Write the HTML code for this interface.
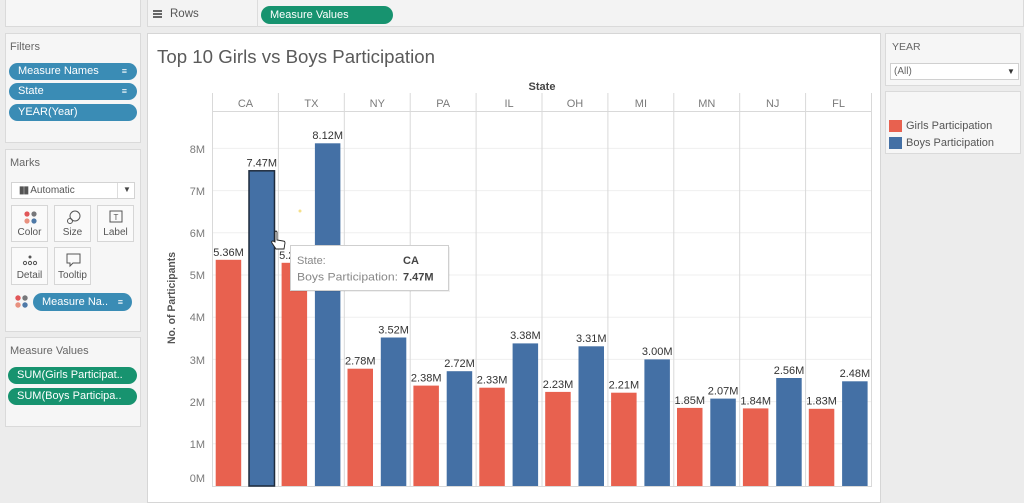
<!DOCTYPE html>
<html><head><meta charset="utf-8">
<style>
*{box-sizing:border-box;margin:0;padding:0}
body{width:1024px;height:495px;overflow:hidden;background:#ececec;font-family:"Liberation Sans",sans-serif;position:relative}
.p{position:absolute;background:#f6f6f6;border:1px solid #dadada}
.t{position:absolute;font-size:11px;color:#666;white-space:nowrap}
.pill{position:absolute;height:17px;border-radius:9px;color:#fff;font-size:11px;line-height:17px;padding-left:9px;white-space:nowrap;overflow:hidden}
.blue{background:#3a8cb5}
.green{background:#17936f}
.btn{position:absolute;width:37px;height:37px;border:1px solid #d6d6d6;background:#fafafa;font-size:10px;color:#555;text-align:center}
.btn span{position:absolute;left:0;right:0;bottom:3px}
</style></head><body>
<!-- top strip -->
<div class="p" style="left:5px;top:-1px;width:136px;height:28px"></div>
<div class="p" style="left:147px;top:-1px;width:877px;height:28px;background:#f3f3f3"></div>
<div style="position:absolute;left:257px;top:0;width:1px;height:27px;background:#dcdcdc"></div>
<div style="position:absolute;left:153px;top:10px;width:9px;height:8px;border-top:2px solid #666;border-bottom:2px solid #666"></div>
<div style="position:absolute;left:153px;top:13px;width:9px;height:2px;background:#666"></div>
<div class="t" style="left:170px;top:8px;font-size:11.5px;color:#555">Rows</div>
<div class="pill green" style="left:261px;top:6px;width:132px;height:18px;line-height:18px;font-size:11px">Measure Values</div>

<!-- Filters -->
<div class="p" style="left:5px;top:33px;width:136px;height:110px"></div>
<div class="t" style="left:10px;top:41px">Filters</div>
<div class="pill blue" style="left:9px;top:63px;width:128px">Measure Names<span style="position:absolute;right:10px;top:0;font-size:9px">&#8801;</span></div>
<div class="pill blue" style="left:9px;top:83px;width:128px">State<span style="position:absolute;right:10px;top:0;font-size:9px">&#8801;</span></div>
<div class="pill blue" style="left:9px;top:104px;width:128px">YEAR(Year)</div>

<!-- Marks -->
<div class="p" style="left:5px;top:149px;width:136px;height:183px"></div>
<div class="t" style="left:10px;top:157px">Marks</div>
<div style="position:absolute;left:11px;top:182px;width:124px;height:17px;border:1px solid #d3d3d3;background:#fff"></div>
<div class="t" style="left:19px;top:185px;font-size:10px;color:#555"><b style="letter-spacing:-1px">&#9646;&#9646;</b> Automatic</div>
<div class="t" style="left:123px;top:185px;font-size:8px;color:#444">&#9660;</div>
<div style="position:absolute;left:117px;top:183px;width:1px;height:15px;background:#ddd"></div>
<div class="btn" style="left:11px;top:205px"><svg width="37" height="22"><circle cx="15" cy="8" r="2.6" fill="#e15759"/><circle cx="22" cy="8" r="2.6" fill="#76777a"/><circle cx="15" cy="15" r="2.6" fill="#e8917f"/><circle cx="22" cy="15" r="2.6" fill="#4e79a7"/></svg><span>Color</span></div>
<div class="btn" style="left:54px;top:205px"><svg width="37" height="22"><circle cx="20" cy="10" r="5" fill="none" stroke="#555"/><circle cx="15" cy="15" r="2.5" fill="none" stroke="#555"/></svg><span>Size</span></div>
<div class="btn" style="left:97px;top:205px"><svg width="37" height="22"><rect x="12" y="5" width="12" height="11" fill="none" stroke="#555"/><text x="18" y="14" font-size="8" text-anchor="middle" fill="#555" font-family="Liberation Sans">T</text></svg><span>Label</span></div>
<div class="btn" style="left:11px;top:247px;height:38px"><svg width="37" height="22"><circle cx="18" cy="9" r="1.5" fill="#555"/><circle cx="13" cy="15" r="1.6" fill="none" stroke="#555"/><circle cx="18" cy="15" r="1.6" fill="none" stroke="#555"/><circle cx="23" cy="15" r="1.6" fill="none" stroke="#555"/></svg><span>Detail</span></div>
<div class="btn" style="left:54px;top:247px;height:38px"><svg width="37" height="22"><path d="M12 6h13v9h-7l-3 3v-3h-3z" fill="none" stroke="#555"/></svg><span>Tooltip</span></div>
<svg style="position:absolute;left:14px;top:294px" width="18" height="16"><circle cx="4" cy="4" r="2.7" fill="#e15759"/><circle cx="11" cy="4" r="2.7" fill="#76777a"/><circle cx="4" cy="11" r="2.7" fill="#e8917f"/><circle cx="11" cy="11" r="2.7" fill="#4e79a7"/></svg>
<div class="pill blue" style="left:33px;top:293px;width:99px;height:18px;line-height:18px">Measure Na..<span style="position:absolute;right:9px;top:0;font-size:9px">&#8801;</span></div>

<!-- Measure values -->
<div class="p" style="left:5px;top:337px;width:136px;height:90px"></div>
<div class="t" style="left:10px;top:345px">Measure Values</div>
<div class="pill green" style="left:8px;top:367px;width:129px">SUM(Girls Participat..</div>
<div class="pill green" style="left:8px;top:388px;width:129px">SUM(Boys Participa..</div>

<!-- right panels -->
<div class="p" style="left:885px;top:33px;width:136px;height:53px"></div>
<div class="t" style="left:892px;top:41px;font-size:10.5px">YEAR</div>
<div style="position:absolute;left:890px;top:63px;width:129px;height:17px;border:1px solid #d0d0d0;background:#fff"></div>
<div class="t" style="left:894px;top:66px;font-size:10px;color:#666">(All)</div>
<div class="t" style="left:1007px;top:67px;font-size:8px;color:#333">&#9660;</div>
<div class="p" style="left:885px;top:91px;width:136px;height:63px"></div>
<div style="position:absolute;left:889px;top:120px;width:13px;height:12px;background:#e8614f"></div>
<div style="position:absolute;left:889px;top:137px;width:13px;height:12px;background:#4470a5"></div>
<div class="t" style="left:906px;top:120px;font-size:11px;color:#555">Girls Participation</div>
<div class="t" style="left:906px;top:137px;font-size:11px;color:#555">Boys Participation</div>

<!-- chart panel -->
<div style="position:absolute;left:147px;top:33px;width:734px;height:470px;background:#fff;border:1px solid #d6d6d6"></div>

<svg style="position:absolute;left:0;top:0" width="1024" height="495" font-family="Liberation Sans, sans-serif">
<text x="157" y="63" font-size="18" fill="#5a5a5a" textLength="278" lengthAdjust="spacingAndGlyphs">Top 10 Girls vs Boys Participation</text>
<text x="542" y="90" font-size="11" font-weight="bold" fill="#444" text-anchor="middle">State</text>
<g stroke="#efefef" stroke-width="1">
<line x1="212" x2="871" y1="443.8" y2="443.8"/><line x1="212" x2="871" y1="401.6" y2="401.6"/>
<line x1="212" x2="871" y1="359.4" y2="359.4"/><line x1="212" x2="871" y1="317.2" y2="317.2"/>
<line x1="212" x2="871" y1="275" y2="275"/><line x1="212" x2="871" y1="232.8" y2="232.8"/>
<line x1="212" x2="871" y1="190.6" y2="190.6"/><line x1="212" x2="871" y1="148.4" y2="148.4"/>
</g>
<g stroke="#d9d9d9" stroke-width="1">
<line x1="212" x2="871" y1="111.5" y2="111.5"/>
<line x1="212.5" x2="212.5" y1="93" y2="487"/>
<line x1="278.4" x2="278.4" y1="93" y2="487"/>
<line x1="344.3" x2="344.3" y1="93" y2="487"/>
<line x1="410.2" x2="410.2" y1="93" y2="487"/>
<line x1="476.1" x2="476.1" y1="93" y2="487"/>
<line x1="542" x2="542" y1="93" y2="487"/>
<line x1="607.9" x2="607.9" y1="93" y2="487"/>
<line x1="673.8" x2="673.8" y1="93" y2="487"/>
<line x1="739.7" x2="739.7" y1="93" y2="487"/>
<line x1="805.6" x2="805.6" y1="93" y2="487"/>
<line x1="871.5" x2="871.5" y1="93" y2="487"/>
<line x1="212" x2="871" y1="486.5" y2="486.5"/>
</g>
<g font-size="11" fill="#7a7a7a" text-anchor="middle">
<text x="245.5" y="107">CA</text><text x="311.4" y="107">TX</text><text x="377.3" y="107">NY</text>
<text x="443.2" y="107">PA</text><text x="509.1" y="107">IL</text><text x="575" y="107">OH</text>
<text x="640.9" y="107">MI</text><text x="706.8" y="107">MN</text><text x="772.7" y="107">NJ</text>
<text x="838.6" y="107">FL</text>
</g>
<g font-size="11" fill="#7a7a7a" text-anchor="end">
<text x="205" y="153">8M</text><text x="205" y="195">7M</text><text x="205" y="237">6M</text>
<text x="205" y="279">5M</text><text x="205" y="321">4M</text><text x="205" y="364">3M</text>
<text x="205" y="406">2M</text><text x="205" y="448">1M</text><text x="205" y="482">0M</text>
</g>
<text transform="translate(175,298) rotate(-90)" font-size="11" font-weight="bold" fill="#555" text-anchor="middle" textLength="92" lengthAdjust="spacingAndGlyphs">No. of Participants</text>

<g id="bars">
<!-- CA -->
<rect x="215.7" y="259.8" width="25.5" height="226.2" fill="#e8614f"/>
<rect x="249" y="170.8" width="25.5" height="315.2" fill="#4470a5" stroke="#1e2b3c" stroke-width="1.5"/>
<!-- TX -->
<rect x="281.6" y="262.8" width="25.5" height="223.2" fill="#e8614f"/>
<rect x="314.9" y="143.3" width="25.5" height="342.7" fill="#4470a5"/>
<!-- NY -->
<rect x="347.5" y="368.7" width="25.5" height="117.3" fill="#e8614f"/>
<rect x="380.8" y="337.5" width="25.5" height="148.5" fill="#4470a5"/>
<!-- PA -->
<rect x="413.4" y="385.6" width="25.5" height="100.4" fill="#e8614f"/>
<rect x="446.7" y="371.2" width="25.5" height="114.8" fill="#4470a5"/>
<!-- IL -->
<rect x="479.3" y="387.7" width="25.5" height="98.3" fill="#e8614f"/>
<rect x="512.6" y="343.4" width="25.5" height="142.6" fill="#4470a5"/>
<!-- OH -->
<rect x="545.2" y="391.9" width="25.5" height="94.1" fill="#e8614f"/>
<rect x="578.5" y="346.3" width="25.5" height="139.7" fill="#4470a5"/>
<!-- MI -->
<rect x="611.1" y="392.7" width="25.5" height="93.3" fill="#e8614f"/>
<rect x="644.4" y="359.4" width="25.5" height="126.6" fill="#4470a5"/>
<!-- MN -->
<rect x="677" y="407.9" width="25.5" height="78.1" fill="#e8614f"/>
<rect x="710.3" y="398.6" width="25.5" height="87.4" fill="#4470a5"/>
<!-- NJ -->
<rect x="742.9" y="408.4" width="25.5" height="77.6" fill="#e8614f"/>
<rect x="776.2" y="378" width="25.5" height="108" fill="#4470a5"/>
<!-- FL -->
<rect x="808.8" y="408.8" width="25.5" height="77.2" fill="#e8614f"/>
<rect x="842.1" y="381.3" width="25.5" height="104.7" fill="#4470a5"/>
</g>
<g font-size="11" fill="#333" text-anchor="middle">
<text x="228.5" y="256">5.36M</text><text x="261.8" y="166.5">7.47M</text>
<text x="294.4" y="259">5.29M</text><text x="327.7" y="139">8.12M</text>
<text x="360.3" y="364.5">2.78M</text><text x="393.6" y="333.5">3.52M</text>
<text x="426.2" y="381.5">2.38M</text><text x="459.5" y="367">2.72M</text>
<text x="492.1" y="383.5">2.33M</text><text x="525.4" y="339">3.38M</text>
<text x="558" y="388">2.23M</text><text x="591.3" y="342">3.31M</text>
<text x="623.9" y="388.5">2.21M</text><text x="657.2" y="355">3.00M</text>
<text x="689.8" y="404">1.85M</text><text x="723.1" y="394.5">2.07M</text>
<text x="755.7" y="404.5">1.84M</text><text x="789" y="374">2.56M</text>
<text x="821.6" y="404.5">1.83M</text><text x="854.9" y="377">2.48M</text>
</g>

<!-- tooltip -->
<rect x="291" y="247" width="159" height="45" fill="#000" opacity="0.06"/>
<rect x="290.5" y="245.5" width="158" height="45" fill="#fff" stroke="#cfcfcf"/>
<text x="297" y="264" font-size="11" fill="#888">State:</text>
<text x="403" y="264" font-size="11" font-weight="bold" fill="#444">CA</text>
<text x="297" y="280.5" font-size="11" fill="#888" textLength="101" lengthAdjust="spacingAndGlyphs">Boys Participation:</text>
<text x="403" y="280.5" font-size="11" font-weight="bold" fill="#444">7.47M</text>

<!-- cursor -->
<path d="M275 232 v10 l-2 -1 q-2 0 -1 2 l4 6 h8 l1 -6 q0 -2 -2 -2 l-6 -1 v-8 q-1 -2 -2 0z" fill="#fff" stroke="#222" stroke-width="0.9"/>
<circle cx="300" cy="211" r="1.5" fill="#f5e08a"/>
</svg>
</body></html>
